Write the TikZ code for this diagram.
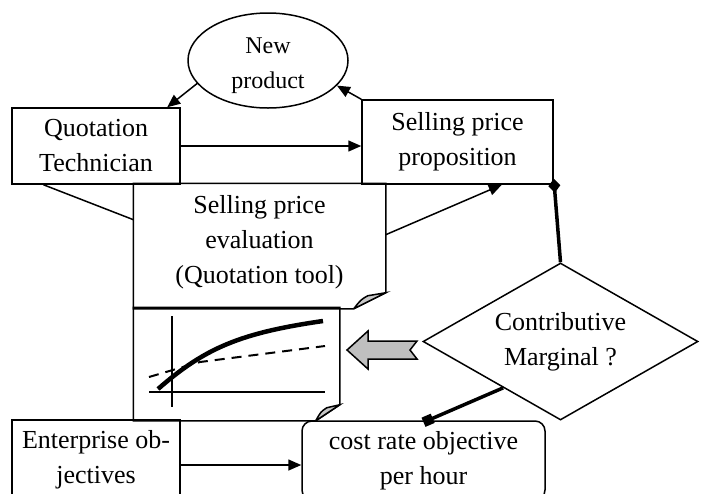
\documentclass[tikz,border=0pt]{standalone}
\usepackage{fontspec}
\setmainfont{Liberation Serif}
\usetikzlibrary{shapes.geometric,arrows.meta,calc}

\begin{document}
\begin{tikzpicture}[x=0.5pt, y=-0.5pt, line width=0.75pt,
	>={Triangle[length=6.5pt,width=5.5pt]},
	every node/.style={font=\fontsize{13}{17.5}\selectfont, align=center, inner sep=0pt},
	main node/.style={rectangle,draw},
	page node/.style={rectangle},
	fat line/.style={line width=1.75pt}]

	\useasboundingbox (0,0) rectangle (705,493);

	\node[ellipse,draw,minimum width=80pt,minimum height=47.5pt,
		label={[yshift=-2.5pt,font=\fontsize{12}{17.5}\selectfont]center:New\\product}] (1) at (268,60.5) {};
	\node[main node,minimum width=84pt,minimum height=38pt] (2) at (96,146) {Quotation\\Technician};
	\node[main node,minimum width=95.5pt,minimum height=42pt] (3) at (457.5,142) {Selling price\\proposition};
	\node[page node,minimum width=125.5pt,minimum height=62pt,
		label={[yshift=2pt]center:Selling price\\evaluation\\(Quotation tool)}] (4) at (259.5,246) {};
	\node[page node,minimum width=102.5pt,minimum height=56pt] (5) at (236.5,364) {};
	\node[diamond,draw,aspect=1.75,minimum width=137.5pt,minimum height=78.5pt] (6) at (560.5,341.5) {Contributive\\Marginal ?};
	\node[main node,minimum width=84pt,minimum height=40pt] (7) at (96,460) {Enterprise ob-\\jectives};
	\node[main node,rounded corners=5pt,minimum width=121.5pt,minimum height=39.5pt] (8) at (423.5,460.5) {cost rate objective\\per hour};

	% pages with a turned corner
	\draw (4.south west) -- (4.north west) -- (4.north east) -- ($(4.south east)+(0,-16)$) -- ($(4.south east)+(-32,0)$) -- cycle;
	\filldraw[fill=black!22] ($(4.south east)+(-32,0)$) -- ($(4.south east)+(0,-16)$) -- ($(4.south east)+(-18,-13)$) .. controls ($(4.south east)+(-25,-9)$) .. ($(4.south east)+(-32,0)$);
	\draw (5.south west) -- (5.north west) -- (5.north east) -- ($(5.south east)+(0,-16)$) -- ($(5.south east)+(-24,0)$) -- cycle;
	\filldraw[fill=black!22] ($(5.south east)+(-24,0)$) -- ($(5.south east)+(0,-16)$) -- ($(5.south east)+(-13,-13)$) .. controls ($(5.south east)+(-19,-9)$) .. ($(5.south east)+(-24,0)$);

	% curves on the page
	\draw (172,316) -- (172,407);
	\draw (149,392) -- (325,392);
	\draw[line width=2.25pt] (158,389) .. controls (205,348) and (240,333) .. (323,321);
	\draw[dash pattern=on 5pt off 3.5pt, line width=1pt] (149,377) -- (200,362) -- (325,346);

	% block arrow
	\filldraw[fill=black!25] (347,350) -- (368,331) -- (368,341) -- (417,341) -- (410,350) -- (417,359) -- (368,359) -- (368,369) -- cycle;

	\coordinate (e) at ($(7.east)+(0,5)$);

	\draw[->] (2.east) -- (2.east -| 3.west);
	\draw[->] (1.198) -- ($(2.north west)!0.92!(2.north east)$);
	\draw[->] (3.north west) -- (1.-20);
	\draw ($(2.south west)!0.19!(2.south east)$) -- ($(4.north west)!0.29!(4.south west)$);
	\draw[->] ($(4.north east)!0.41!(4.south east)$) -- ($(3.south west)!0.73!(3.south east)$);
	\draw[fat line,{Diamond[length=7pt,width=6pt]}-] ([yshift=3pt]3.south east) -- (6.north);
	\draw[fat line,-{Square[length=5pt,width=5pt]}] ($(6.west)!0.585!(6.south)$) -- ([yshift=-1pt]8.north);
	\draw[->] (e) -- (e -| 8.west);
\end{tikzpicture}
\end{document}
